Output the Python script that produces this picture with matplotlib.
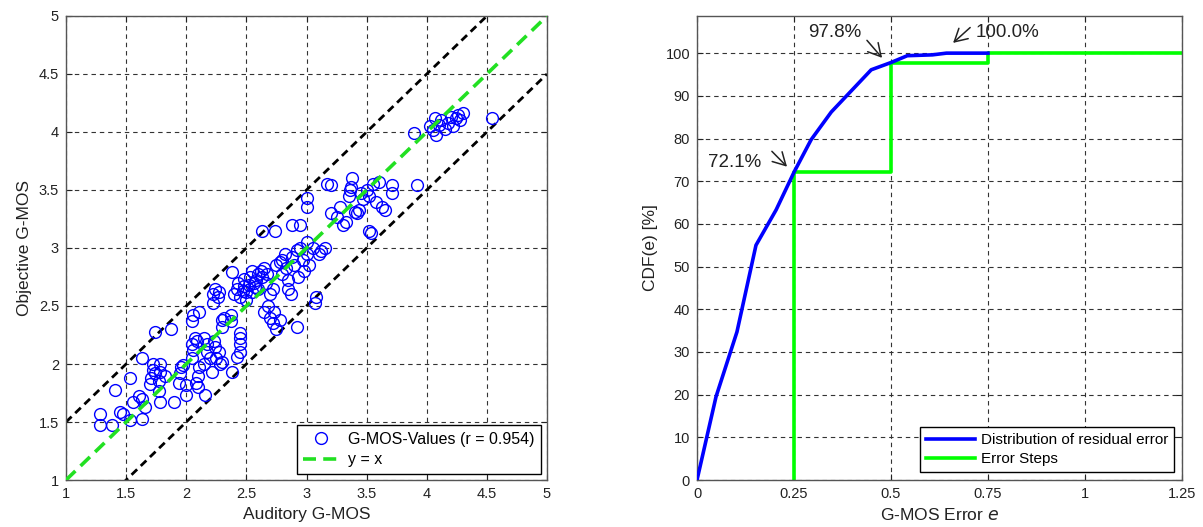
import matplotlib
matplotlib.use("Agg")
import matplotlib.pyplot as plt
import numpy as np

plt.rcParams['font.family'] = ['Liberation Sans', 'DejaVu Sans']

# ---------------- data ----------------
auditory = [
    1.28, 1.28, 1.38, 1.41, 1.45, 1.47, 1.53, 1.53, 1.56, 1.61, 1.63, 1.63, 1.66, 1.63,
    1.70, 1.71, 1.72, 1.72, 1.74, 1.74, 1.77, 1.77, 1.78, 1.78, 1.78, 1.82, 1.87, 1.90,
    1.94, 1.95, 1.96, 1.97, 2.00, 2.00,
    2.05, 2.06, 2.05, 2.07, 2.09, 2.08, 2.10, 2.11, 2.10, 2.15, 2.17, 2.17, 2.15, 2.16,
    2.21, 2.23, 2.24, 2.25, 2.27, 2.20, 2.28, 2.30, 2.22, 2.22, 2.24, 2.26, 2.27, 2.11,
    2.05, 2.06, 2.30, 2.30, 2.31, 2.37, 2.37, 2.38, 2.42, 2.45, 2.45, 2.45, 2.45, 2.38,
    2.40, 2.42, 2.43, 2.45, 2.47, 2.48, 2.50, 2.50, 2.48,
    2.52, 2.53, 2.55, 2.55, 2.56, 2.57, 2.58, 2.60, 2.60, 2.62, 2.63, 2.65, 2.66, 2.67,
    2.63, 2.74, 2.65, 2.68, 2.70, 2.72, 2.73, 2.75, 2.78, 2.92, 2.70, 2.72, 2.75, 2.78,
    2.80, 2.80, 2.82, 2.83, 2.85, 2.85, 2.87, 2.88, 2.88, 2.95, 2.90, 2.92, 2.93, 2.95,
    2.97, 2.98, 3.00, 3.00,
    3.00, 3.00, 3.02, 3.05, 3.07, 3.08, 3.10, 3.12, 3.15, 3.17, 3.20, 3.20, 3.25, 3.28,
    3.30, 3.33, 3.35, 3.36, 3.37, 3.38, 3.40, 3.42, 3.44, 3.45, 3.47, 3.50, 3.52, 3.52,
    3.54, 3.55, 3.58, 3.60, 3.63, 3.65, 3.71, 3.71, 3.92,
    3.89, 4.03, 4.05, 4.07, 4.08, 4.10, 4.12, 4.15, 4.18, 4.20, 4.22, 4.24, 4.26, 4.28,
    4.30, 4.54,
]
objective = [
    1.57, 1.47, 1.47, 1.78, 1.59, 1.57, 1.88, 1.52, 1.67, 1.72, 1.70, 1.53, 1.63, 2.05,
    1.83, 1.88, 1.95, 2.00, 1.92, 2.28, 1.77, 1.85, 1.93, 2.00, 1.67, 1.90, 2.30, 1.67,
    1.84, 1.92, 1.97, 1.99, 1.73, 1.82,
    2.05, 2.12, 2.17, 2.22, 2.20, 1.84, 1.90, 1.97, 1.80, 2.00, 2.10, 2.17, 2.22, 1.73,
    1.93, 2.20, 2.15, 2.05, 2.10, 2.05, 2.00, 2.02, 2.53, 2.60, 2.65, 2.58, 2.62, 2.45,
    2.37, 2.42, 2.32, 2.38, 2.40, 2.37, 2.42, 2.79, 2.06, 2.10, 2.17, 2.22, 2.27, 1.93,
    2.60, 2.65, 2.70, 2.58, 2.63, 2.67, 2.62, 2.55, 2.73,
    2.68, 2.75, 2.80, 2.62, 2.70, 2.66, 2.72, 2.78, 2.65, 2.80, 2.75, 2.83, 2.70, 2.78,
    3.15, 3.15, 2.45, 2.50, 2.40, 2.35, 2.45, 2.30, 2.38, 2.32, 2.60, 2.65, 2.85, 2.88,
    2.90, 2.78, 2.95, 2.83, 2.72, 2.65, 2.60, 2.92, 3.20, 3.20, 2.85, 2.98, 2.75, 3.00,
    2.90, 2.80, 3.05, 2.95,
    3.35, 3.43, 2.85, 3.00, 2.53, 2.58, 2.95, 2.97, 3.00, 3.55, 3.54, 3.30, 3.27, 3.35,
    3.20, 3.22, 3.45, 3.50, 3.53, 3.60, 3.31, 3.30, 3.33, 3.47, 3.42, 3.50, 3.45, 3.15,
    3.13, 3.55, 3.40, 3.57, 3.35, 3.33, 3.54, 3.47, 3.54,
    3.99, 4.05, 4.02, 4.12, 3.97, 4.06, 4.10, 4.03, 4.08, 4.13, 4.05, 4.12, 4.15, 4.10,
    4.16, 4.12,
]
r_value = 0.954

cdf_error = [0.0, 0.049, 0.103, 0.152, 0.204, 0.25, 0.294, 0.346, 0.449, 0.50, 0.542, 0.607, 0.643, 0.75]
cdf_percent = [0.0, 19.5, 34.7, 55.0, 63.3, 72.1, 79.7, 86.2, 96.1, 97.8, 99.4, 99.6, 100.0, 100.0]

step_x = [0.25, 0.25, 0.50, 0.50, 0.75, 0.75, 1.25]
step_y = [0.0, 72.1, 72.1, 97.8, 97.8, 100.0, 100.0]

annot_labels = ['72.1%', '97.8%', '100.0%']
annot_points = [(0.232, 73.4), (0.477, 98.9), (0.66, 102.4)]
annot_text_pos = [(0.098, 74.3), (0.356, 104.8), (0.80, 104.8)]
annot_arrow_start = [(0.193, 77.0), (0.438, 103.0), (0.704, 106.0)]

# ---------------- figure ----------------
W, H = 1203, 527
fig = plt.figure(figsize=(W / 100, H / 100), dpi=100)

grid_kw = dict(color='#333333', linewidth=0.8, linestyle=(0, (4, 3.5)))
TXT = '#222222'


def style_axes(ax):
    ax.tick_params(direction='in', top=True, right=True, length=4, width=0.8,
                   labelsize=10.5, colors=TXT, pad=5)
    for s in ax.spines.values():
        s.set_color('#555555')
        s.set_linewidth(1.0)
    ax.grid(True, **grid_kw)
    ax.set_axisbelow(True)


# Left scatter
ax1 = fig.add_axes([66 / W, 1 - 480 / H, 481 / W, 464 / H])
line_x = np.array([1.0, 5.0])
ax1.plot(line_x, line_x + 0.5, color='black', lw=2.0, linestyle=(0, (2.8, 1.8)), zorder=2)
ax1.plot(line_x, line_x - 0.5, color='black', lw=2.0, linestyle=(0, (2.8, 1.8)), zorder=2)
ax1.plot(auditory, objective, linestyle='none', marker='o', markersize=8.5,
         markerfacecolor='none', markeredgecolor='#0000ff', markeredgewidth=1.0,
         label=f'G-MOS-Values (r = {r_value:.3f})', zorder=3)
ax1.plot(line_x, line_x, color='#22e022', lw=2.6, linestyle=(0, (3.6, 2.0)),
         label='y = x', zorder=4)
ax1.set_xlim(1, 5)
ax1.set_ylim(1, 5)
ticks = np.arange(1, 5.01, 0.5)
ax1.set_xticks(ticks)
ax1.set_yticks(ticks)
ax1.set_xticklabels([f'{t:g}' for t in ticks])
ax1.set_yticklabels([f'{t:g}' for t in ticks])
style_axes(ax1)
ax1.set_xlabel('Auditory G-MOS', fontsize=12.5, color=TXT, labelpad=4)
ax1.set_ylabel('Objective G-MOS', fontsize=12.5, color=TXT, labelpad=5)
leg1 = ax1.legend(loc='lower right', fontsize=11.5, frameon=True, fancybox=False,
                  edgecolor='black', framealpha=1, borderpad=0.4, handlelength=2.2,
                  handletextpad=0.6, borderaxespad=0.4, labelspacing=0.35)
leg1.get_frame().set_linewidth(1.0)

# Right CDF
ax2 = fig.add_axes([697 / W, 1 - 480 / H, 485 / W, 464 / H])
ax2.plot(cdf_error, cdf_percent, color='#0000ff', lw=2.6,
         label='Distribution of residual error', zorder=3)
ax2.plot(step_x, step_y, color='#00ff00', lw=2.6, label='Error Steps', zorder=2)
ax2.set_xlim(0, 1.25)
ax2.set_ylim(0, 108.7)
xt = np.arange(0, 1.251, 0.25)
ax2.set_xticks(xt)
ax2.set_xticklabels([f'{t:g}' for t in xt])
ax2.set_yticks(np.arange(0, 101, 10))
style_axes(ax2)
ax2.set_xlabel('G-MOS Error $e$', fontsize=12.5, color=TXT, labelpad=4)
ax2.set_ylabel('CDF(e) [%]', fontsize=12.5, color=TXT, labelpad=5)
leg2 = ax2.legend(loc='lower right', fontsize=11, frameon=True, fancybox=False,
                  edgecolor='black', framealpha=1, borderpad=0.4, handlelength=3.2,
                  handletextpad=0.4, borderaxespad=0.5, labelspacing=0.35)
leg2.get_frame().set_linewidth(1.0)

for lab, pt, tp, st in zip(annot_labels, annot_points, annot_text_pos, annot_arrow_start):
    ax2.text(tp[0], tp[1], lab, fontsize=13.5, color=TXT, ha='center', va='center')
    ax2.annotate('', xy=pt, xytext=st,
                 arrowprops=dict(arrowstyle='->,head_length=0.45,head_width=0.25',
                                 color=TXT, lw=1.1, shrinkA=0, shrinkB=0,
                                 mutation_scale=20))

fig.savefig('out.png', dpi=100)
